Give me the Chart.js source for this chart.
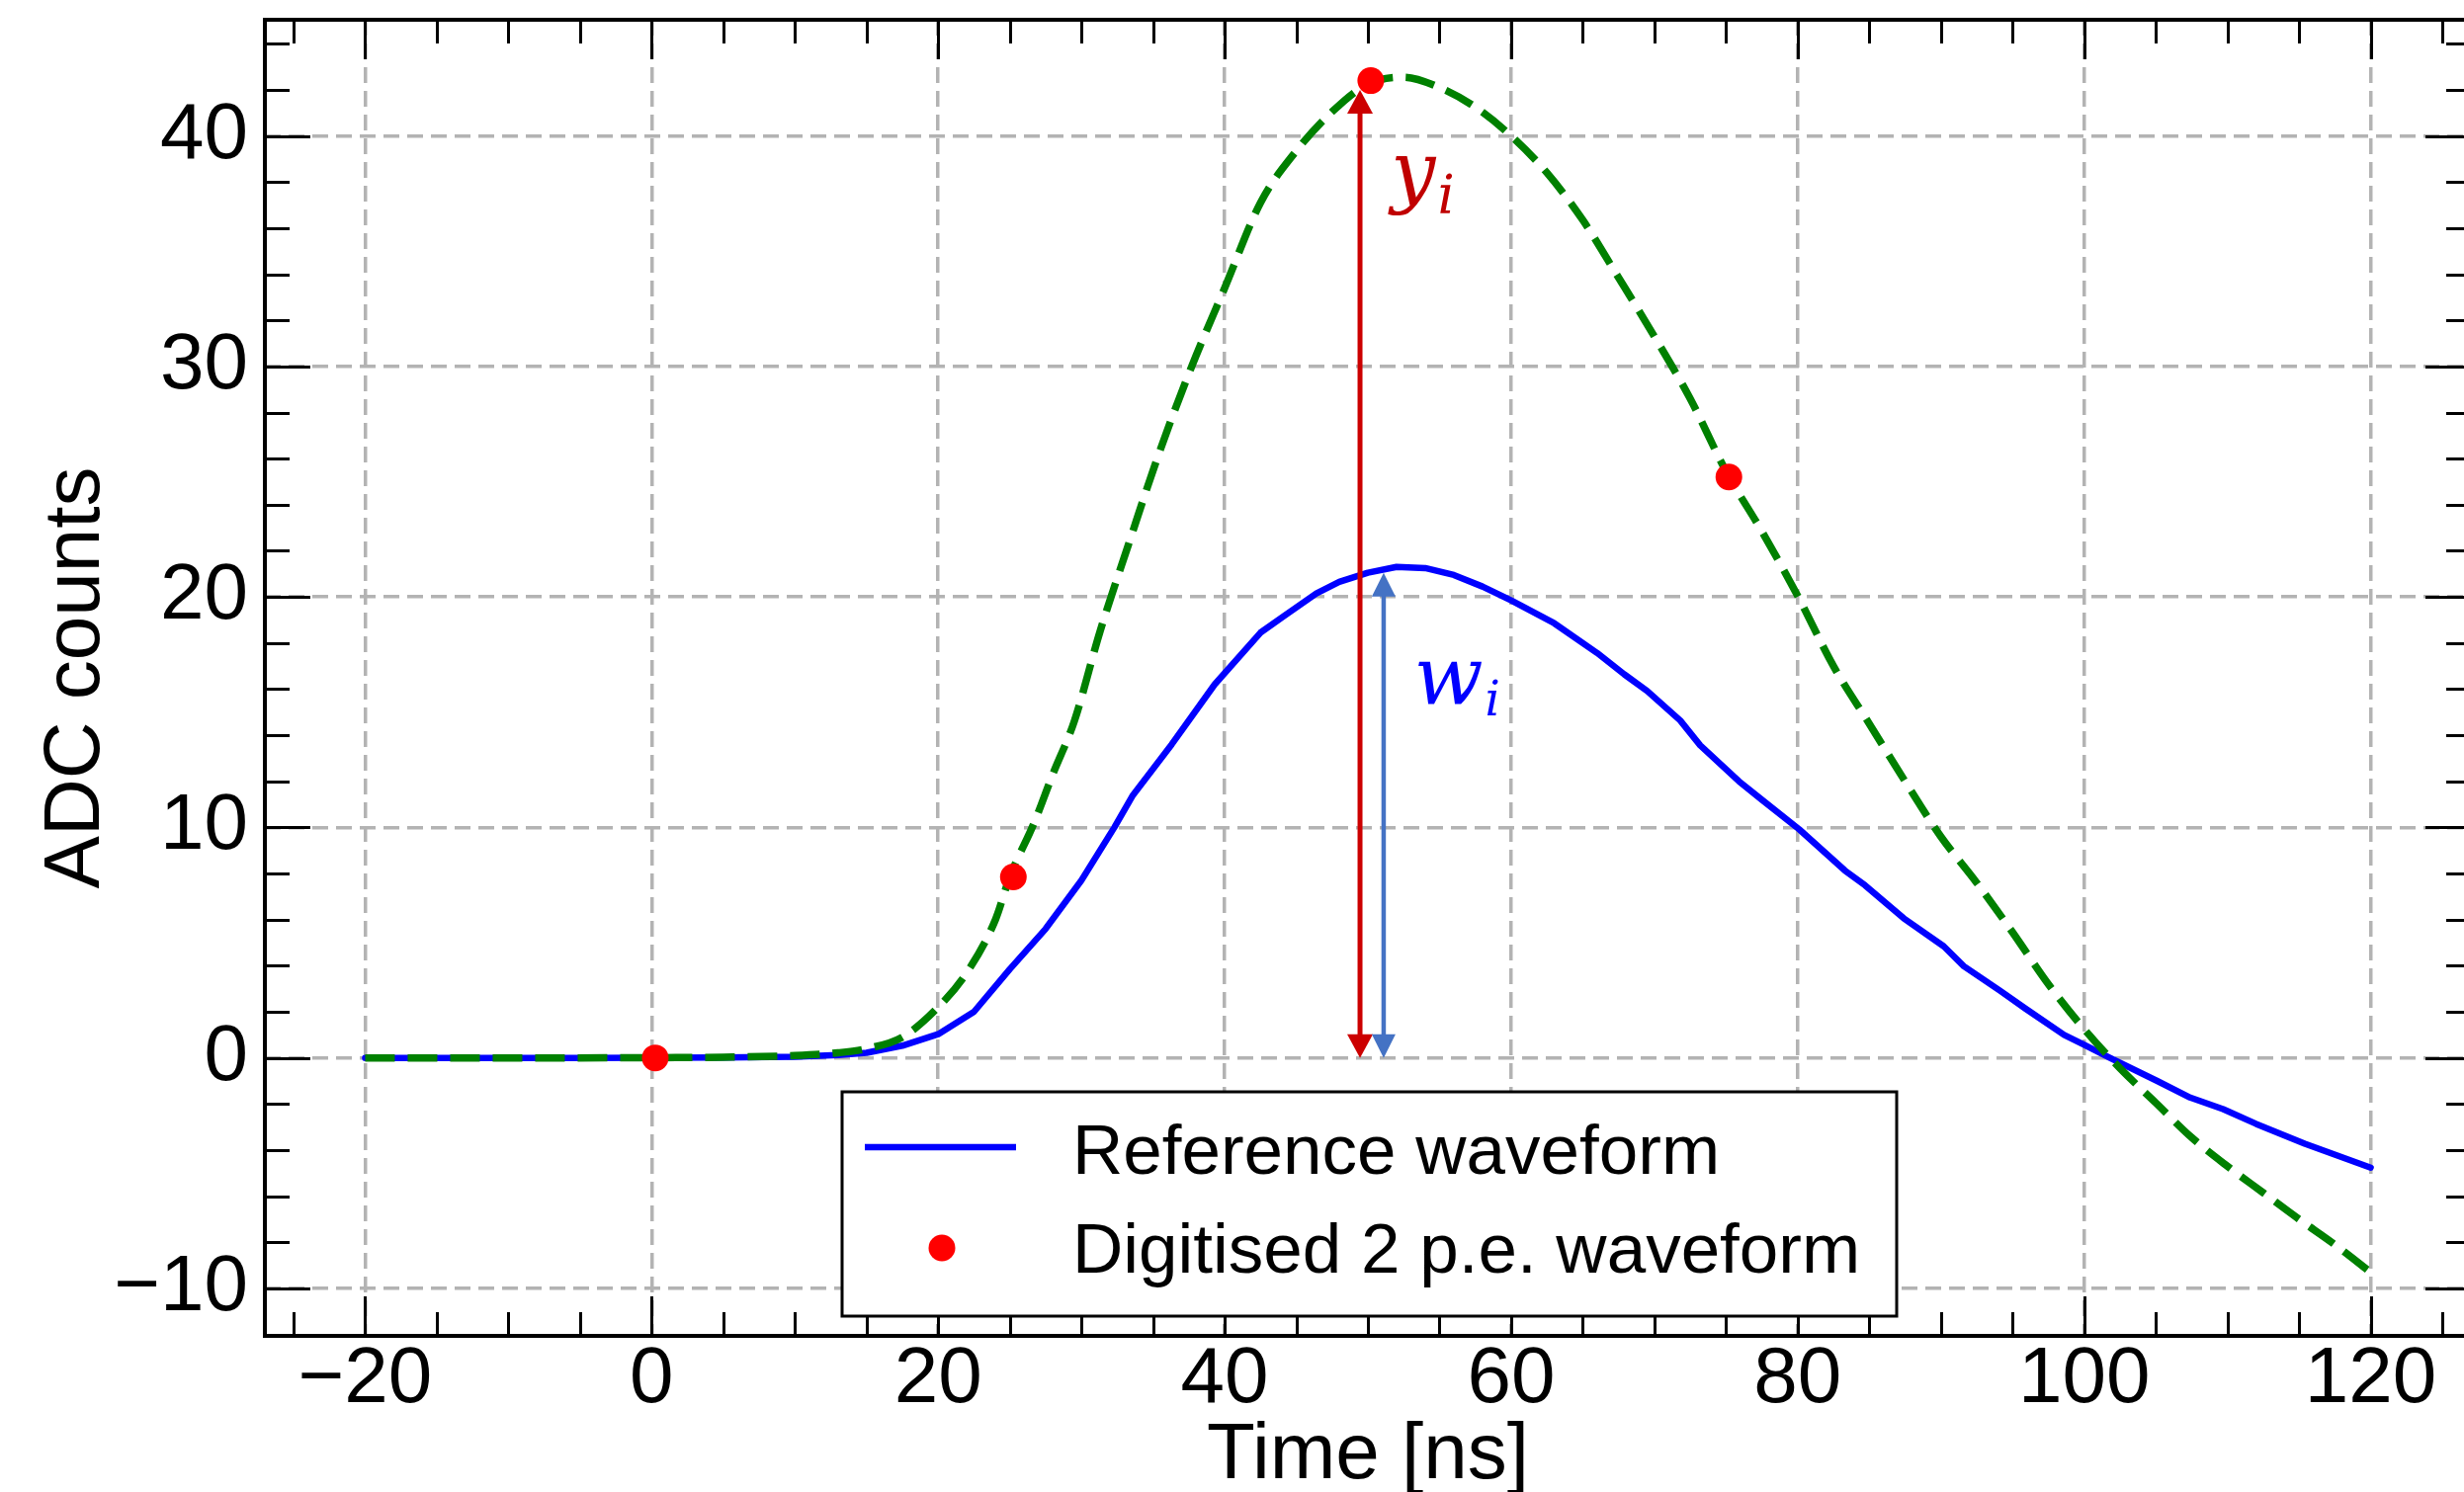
<!DOCTYPE html>
<html>
<head>
<meta charset="utf-8">
<title>Reference and digitised 2 p.e. waveform</title>
<script src="https://cdn.jsdelivr.net/npm/chart.js@4.4.1/dist/chart.umd.min.js"></script>
<style>
  html, body { margin: 0; padding: 0; background: #fff; overflow: hidden; }
  #wrap { position: relative; width: 2493px; height: 1510px; overflow: hidden; }
  canvas { position: absolute; left: 0; top: 0; }
</style>
</head>
<body>
<div id="wrap"><canvas id="chart" width="2520" height="1510"></canvas></div>
<script>
// ---- values ----
// reference waveform (blue, solid)
const refTime = [-20, -15, -10, -5, 0, 5, 10, 13, 15, 17.5, 20, 22.5, 25, 27.5, 30, 32.3, 33.6, 36.3, 39.3, 42.5,
  44.1, 46.4, 48, 50, 52, 54, 56, 58, 60, 63, 66, 67.9, 69.5, 71.8, 73.2, 75.9, 77.5, 80.1, 83.3, 84.7,
  87.4, 90.2, 91.6, 94.1, 95.9, 98.6, 100, 101.8, 105.1, 107.4, 109.7, 112, 115.4, 120];
const refAdc = [0, 0, 0, 0, 0.01, 0.02, 0.05, 0.12, 0.22, 0.53, 1.03, 2.0, 3.85, 5.6, 7.7, 10.0, 11.4, 13.6, 16.2, 18.45,
  19.15, 20.15, 20.65, 21.05, 21.3, 21.25, 20.95, 20.45, 19.85, 18.86, 17.57, 16.64, 15.92, 14.64, 13.56, 12.0, 11.2, 9.92, 8.13, 7.49,
  6.06, 4.84, 3.98, 2.93, 2.14, 1.0, 0.57, 0.0, -1.0, -1.72, -2.22, -2.86, -3.72, -4.76];

// 2 p.e. waveform (green, dashed)
const fitTime = [-20, -10, 0, 5, 10, 13, 15, 17.5, 20, 22, 24, 25, 26.7, 28, 29.5, 31.3, 33.3, 35.4, 37.7, 40,
  42.5, 45, 47.5, 50, 52.5, 55, 57.5, 60, 62.5, 65, 67.5, 70, 72.5, 75, 77.5, 80, 82.5, 85, 87.5, 90,
  92.5, 95, 97.5, 100, 102.5, 105, 107.5, 110, 112.5, 115, 117.5, 120];
const fitAdc = [0, 0, 0.01, 0.03, 0.1, 0.22, 0.4, 0.9, 2.2, 3.7, 6.0, 7.85, 10.2, 12.3, 14.6, 18.5, 22.3, 26.2, 30.0, 33.4,
  37.1, 39.35, 41.05, 42.25, 42.55, 42.1, 41.25, 40.0, 38.4, 36.35, 33.85, 31.3, 28.6, 25.45, 22.85, 20.05, 17.0, 14.5, 12.0, 9.6,
  7.6, 5.45, 3.2, 1.25, -0.45, -1.95, -3.45, -4.7, -5.85, -7.0, -8.1, -9.3];

// digitised samples (red dots)
const digTime = [0.25, 25.25, 50.2, 75.2];
const digAdc = [0, 7.85, 42.4, 25.2];

const xTicks = [-20, 0, 20, 40, 60, 80, 100, 120];
const yTicks = [-10, 0, 10, 20, 30, 40];

const legendLabels = ['Reference waveform', 'Digitised 2 p.e. waveform'];

// annotation arrows and their labels, in data units
const yArrow = { x: 49.45, from: 0, to: 42.0 };
const wArrow = { x: 51.1, from: 0, to: 21.05 };
const yLabel = { x: 51.6, y: 37.32 };
const wLabel = { x: 53.2, y: 15.36 };

const SANS = '"Liberation Sans", Arial, Helvetica, sans-serif';
const SERIF = '"DejaVu Serif", "Liberation Serif", serif';
const BLUE = '#0000ff';
const GREEN = '#008000';
const RED = '#ff0000';

function toPoints(xs, ys) {
  return xs.map((x, i) => ({ x: x, y: ys[i] }));
}

// vertical arrow with a head at both ends (pixel coords, yTop < yBottom)
function drawArrow(ctx, x, yBottom, yTop, color, lw, headW, headL) {
  ctx.save();
  ctx.strokeStyle = color;
  ctx.fillStyle = color;
  ctx.lineWidth = lw;
  ctx.beginPath();
  ctx.moveTo(x, yBottom - headL + 2);
  ctx.lineTo(x, yTop + headL - 2);
  ctx.stroke();
  ctx.beginPath();
  ctx.moveTo(x, yTop);
  ctx.lineTo(x - headW / 2, yTop + headL);
  ctx.lineTo(x + headW / 2, yTop + headL);
  ctx.closePath();
  ctx.fill();
  ctx.beginPath();
  ctx.moveTo(x, yBottom);
  ctx.lineTo(x - headW / 2, yBottom - headL);
  ctx.lineTo(x + headW / 2, yBottom - headL);
  ctx.closePath();
  ctx.fill();
  ctx.restore();
}

function drawSymbol(ctx, px, py, letter, size, subSize, subDrop, color) {
  ctx.save();
  ctx.fillStyle = color;
  ctx.textBaseline = 'alphabetic';
  ctx.textAlign = 'left';
  ctx.font = 'italic ' + size + 'px ' + SERIF;
  ctx.fillText(letter, px, py);
  const w = ctx.measureText(letter).width;
  ctx.font = 'italic ' + subSize + 'px ' + SERIF;
  ctx.fillText('i', px + w + 2, py + subDrop);
  ctx.restore();
}

// drop the label overhang padding so the plot frame sits where it should
function noOverhang(s) {
  s.paddingTop = 0;
  s.paddingBottom = 0;
  s.paddingLeft = 0;
  s.paddingRight = 0;
}

const decor = {
  id: 'decor',
  afterDatasetDraw(chart, args) {
    // arrows go above the two curves but below the red samples
    if (args.index !== 1) return;
    const { ctx, scales: { x, y } } = chart;
    drawArrow(ctx, x.getPixelForValue(yArrow.x), y.getPixelForValue(yArrow.from),
      y.getPixelForValue(yArrow.to), '#cc0000', 5, 26, 24);
    drawArrow(ctx, x.getPixelForValue(wArrow.x), y.getPixelForValue(wArrow.from),
      y.getPixelForValue(wArrow.to), '#4472c4', 4.5, 24, 24);
  },
  afterDraw(chart) {
    const { ctx, chartArea: a, scales: { x, y } } = chart;

    // inward ticks on all four sides
    ctx.save();
    ctx.strokeStyle = '#000';
    ctx.lineWidth = 3;
    ctx.beginPath();
    for (let v = -25; v <= 125; v += 5) {
      const px = Math.round(x.getPixelForValue(v)) + 0.5;
      const len = v % 20 === 0 ? 40 : 24;
      ctx.moveTo(px, a.bottom); ctx.lineTo(px, a.bottom - len);
      ctx.moveTo(px, a.top); ctx.lineTo(px, a.top + len);
    }
    for (let v = -12; v <= 44; v += 2) {
      const py = Math.round(y.getPixelForValue(v)) + 0.5;
      const len = v % 10 === 0 ? 46 : 25;
      ctx.moveTo(a.left, py); ctx.lineTo(a.left + len, py);
      ctx.moveTo(a.right, py); ctx.lineTo(a.right - len, py);
    }
    ctx.stroke();
    ctx.lineWidth = 4;
    ctx.strokeRect(a.left, a.top, a.right - a.left, a.bottom - a.top);
    ctx.restore();

    // y_i and w_i labels
    drawSymbol(ctx, x.getPixelForValue(yLabel.x), y.getPixelForValue(yLabel.y), 'y', 80, 54, 16, '#c00000');
    drawSymbol(ctx, x.getPixelForValue(wLabel.x), y.getPixelForValue(wLabel.y), 'w', 82, 48, 12, BLUE);

    // legend
    const box = { left: 852, top: 1105, right: 1919, bottom: 1332 };
    const ds = chart.data.datasets;
    ctx.save();
    ctx.fillStyle = '#fff';
    ctx.fillRect(box.left, box.top, box.right - box.left, box.bottom - box.top);
    ctx.strokeStyle = '#000';
    ctx.lineWidth = 3;
    ctx.strokeRect(box.left, box.top, box.right - box.left, box.bottom - box.top);

    ctx.strokeStyle = ds[2].borderColor;
    ctx.lineWidth = 6.5;
    ctx.beginPath();
    ctx.moveTo(875, 1161);
    ctx.lineTo(1028, 1161);
    ctx.stroke();

    ctx.fillStyle = ds[0].backgroundColor;
    ctx.beginPath();
    ctx.arc(953, 1263, 13.5, 0, Math.PI * 2);
    ctx.fill();

    ctx.fillStyle = '#000';
    ctx.font = '71px ' + SANS;
    ctx.textBaseline = 'alphabetic';
    ctx.textAlign = 'left';
    ctx.fillText(ds[2].label, 1085, 1188);
    ctx.fillText(ds[0].label, 1085, 1288);
    ctx.restore();
  }
};

const minusSign = v => String(v).replace('-', '\u2212');

new Chart(document.getElementById('chart'), {
  type: 'scatter',
  data: {
    datasets: [
      {
        label: legendLabels[1],
        data: toPoints(digTime, digAdc),
        order: 0,
        backgroundColor: RED,
        borderWidth: 0,
        pointRadius: 13.5,
        pointHoverRadius: 13.5,
        showLine: false
      },
      {
        label: '2 p.e. waveform',
        data: toPoints(fitTime, fitAdc),
        order: 1,
        showLine: true,
        borderColor: GREEN,
        borderWidth: 7.5,
        borderDash: [30, 13],
        borderCapStyle: 'butt',
        pointRadius: 0,
        pointHoverRadius: 0,
        cubicInterpolationMode: 'monotone'
      },
      {
        label: legendLabels[0],
        data: toPoints(refTime, refAdc),
        order: 2,
        showLine: true,
        borderColor: BLUE,
        borderWidth: 6.5,
        borderJoinStyle: 'round',
        borderCapStyle: 'round',
        pointRadius: 0,
        pointHoverRadius: 0,
        tension: 0
      }
    ]
  },
  options: {
    responsive: false,
    animation: false,
    devicePixelRatio: 1,
    events: [],
    layout: { padding: { top: 20, right: 20, left: 0, bottom: 0 } },
    plugins: {
      legend: { display: false },
      tooltip: { enabled: false }
    },
    scales: {
      x: {
        type: 'linear',
        min: -27,
        max: 127,
        afterBuildTicks: s => { s.ticks = xTicks.map(v => ({ value: v })); },
        afterFit: s => { s.height = 158; noOverhang(s); },
        grid: { color: '#b3b3b3', lineWidth: 3.5, drawTicks: false },
        border: { display: false, dash: [16, 8] },
        ticks: {
          color: '#000',
          padding: 5,
          maxRotation: 0,
          autoSkip: false,
          font: { family: SANS, size: 80, lineHeight: 1 },
          callback: minusSign
        },
        title: {
          display: true,
          text: 'Time [ns]',
          color: '#000',
          padding: { top: 0, bottom: 0 },
          font: { family: SANS, size: 80, lineHeight: 0.9 }
        }
      },
      y: {
        type: 'linear',
        min: -12.06,
        max: 45.04,
        afterBuildTicks: s => { s.ticks = yTicks.map(v => ({ value: v })); },
        afterFit: s => { s.width = 268; noOverhang(s); },
        grid: { color: '#b3b3b3', lineWidth: 3.5, drawTicks: false },
        border: { display: false, dash: [16, 8] },
        ticks: {
          color: '#000',
          padding: 17,
          font: { family: SANS, size: 80, lineHeight: 1 },
          callback: minusSign
        },
        title: {
          display: true,
          text: 'ADC counts',
          color: '#000',
          padding: { top: 38, bottom: 0 },
          font: { family: SANS, size: 80, lineHeight: 1 }
        }
      }
    }
  },
  plugins: [decor]
});
</script>
</body>
</html>
